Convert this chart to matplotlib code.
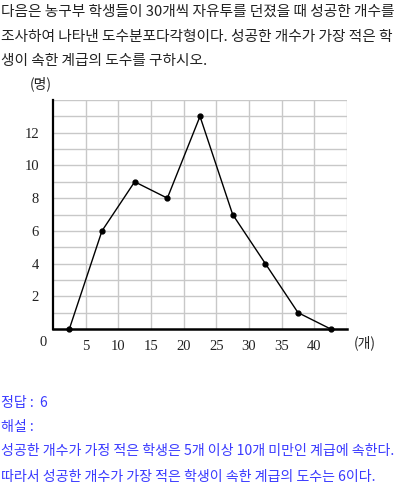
import matplotlib
matplotlib.use("Agg")
import matplotlib.pyplot as plt

plt.rcParams['font.family'] = ['Noto Sans CJK KR', 'DejaVu Sans']

class_mids = [2.5, 7.5, 12.5, 17.5, 22.5, 27.5, 32.5, 37.5, 42.5]
counts = [0, 6, 9, 8, 13, 7, 4, 1, 0]
x_ticks = [5, 10, 15, 20, 25, 30, 35, 40]
y_ticks = [2, 4, 6, 8, 10, 12]

question = ["다음은 농구부 학생들이 30개씩 자유투를 던졌을 때 성공한 개수를",
            "조사하여 나타낸 도수분포다각형이다. 성공한 개수가 가장 적은 학",
            "생이 속한 계급의 도수를 구하시오."]
answer = ["정답 :  6", "해설 :",
          "성공한 개수가 가정 적은 학생은 5개 이상 10개 미만인 계급에 속한다.",
          "따라서 성공한 개수가 가장 적은 학생이 속한 계급의 도수는 6이다."]

W, H = 400, 486
fig = plt.figure(figsize=(W/100, H/100), dpi=100)
ax = fig.add_axes([53/W, 1-329/H, 294/W, 229/H])
ax.set_xlim(0, 45)
ax.set_ylim(0, 14)
for v in range(5, 46, 5):
    ax.axvline(v, color='#c8c8c8', lw=1.0, zorder=1)
for v in range(1, 15):
    ax.axhline(v, color='#c8c8c8', lw=1.0, zorder=1)
ax.plot(class_mids, counts, color='black', lw=1.0, marker='o', ms=3.5, zorder=3, clip_on=False)
for s in ['top', 'right']:
    ax.spines[s].set_visible(False)
ax.spines['left'].set_linewidth(1.6)
ax.spines['bottom'].set_linewidth(1.8)
ax.tick_params(length=0, labelsize=10, pad=8)
serif = ['Liberation Serif', 'DejaVu Serif']
ax.set_xticks(x_ticks)
ax.set_xticklabels([str(v) for v in x_ticks], family=serif, fontsize=10.5, color='#222222')
ax.set_yticks(y_ticks)
ax.set_yticklabels([str(v) for v in y_ticks], family=serif, fontsize=10.5, color='#222222')
ax.tick_params(axis='y', pad=10)
fig.text(43/W, 1-343/H, "0", family=serif, fontsize=10.5, ha='center', va='center', color='#222222')
fig.text(365/W, 1-343/H, "(개)", fontsize=10, ha='center', va='center', color='#222222')
fig.text(41/W, 1-84/H, "(명)", fontsize=10, ha='center', va='center', color='#222222')

ys = [12, 37, 61]
for t, y in zip(question, ys):
    fig.text(1/W, 1-y/H, t, fontsize=10.6, ha='left', va='center', color='#222222')
ys2 = [403, 427, 451, 477]
for t, y in zip(answer, ys2):
    fig.text(1/W, 1-y/H, t, fontsize=10.1, ha='left', va='center', color='#3a3aff')

fig.savefig("out.png", dpi=100)
